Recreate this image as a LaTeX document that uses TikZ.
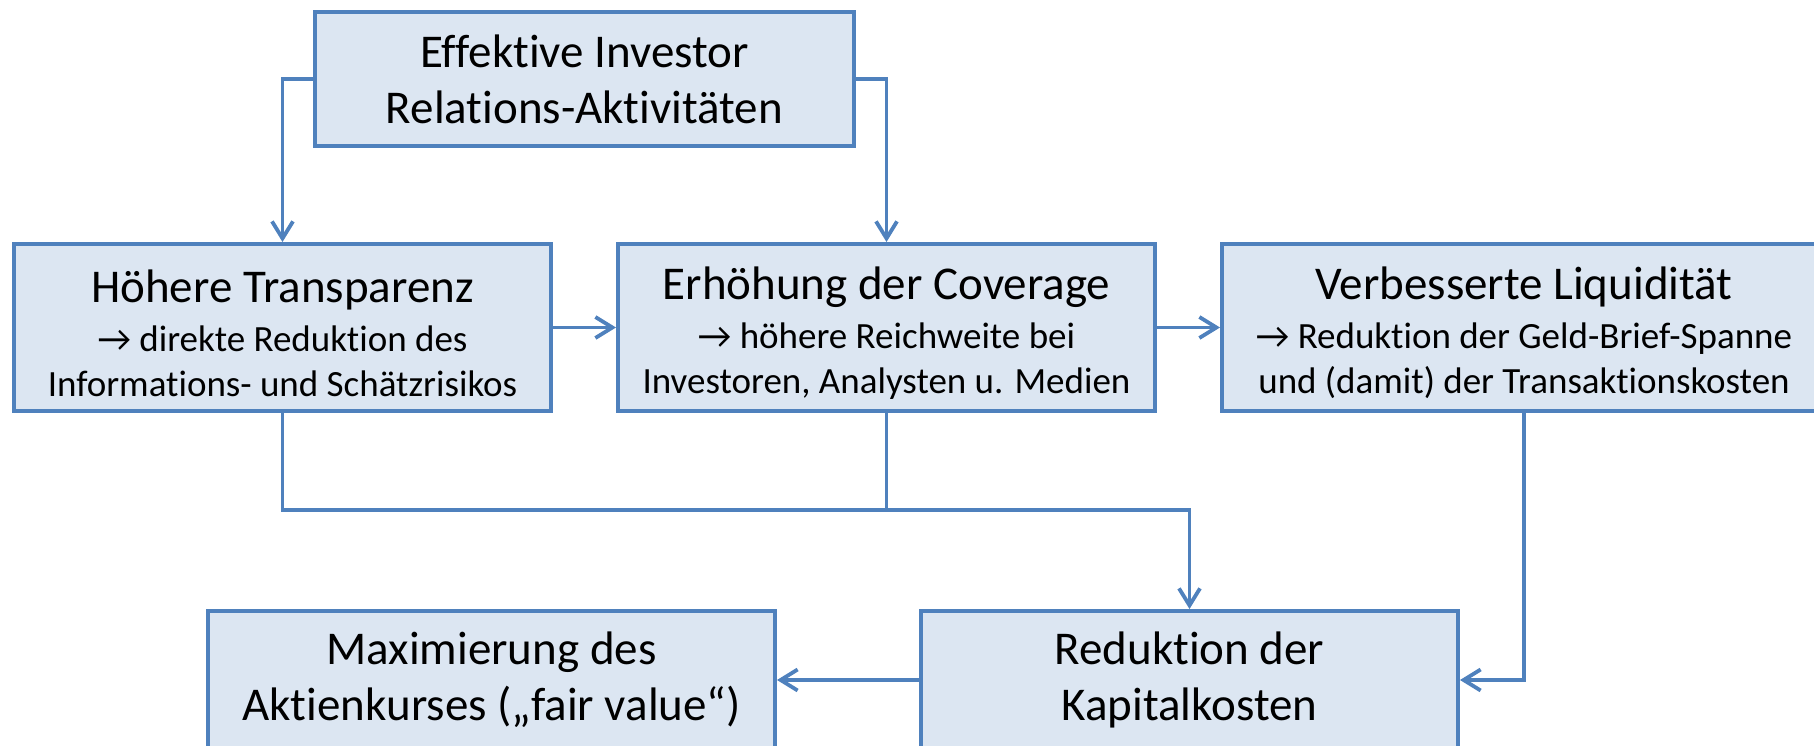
\documentclass[tikz,border=0pt]{standalone}
\usepackage{fontspec}
\setmainfont{Carlito}[Ligatures=NoCommon]
\usetikzlibrary{arrows.meta,calc}
\definecolor{boxfill}{HTML}{DCE6F2}
\definecolor{boxline}{HTML}{4F81BD}
\newcommand{\bigtxt}{\fontsize{47}{56}\selectfont}
\newcommand{\smalltxt}{\fontsize{37}{45}\selectfont}
\begin{document}
\begin{tikzpicture}[x=1pt,y=-1pt,
  box/.style={draw=boxline,fill=boxfill,line width=4pt,inner sep=0pt,
    align=center,anchor=center,font=\bigtxt},
  label text/.style={inner sep=0pt,align=center,font=\smalltxt},
  conn/.style={draw=boxline,line width=3.8pt},
  arr/.style={conn,-{Straight Barb[length=17pt,width=21pt]}}]
\useasboundingbox (0,0) rectangle (1814,746);
\clip (0,0) rectangle (1814,746);

% boxes
\node[box,minimum width=539pt,minimum height=134pt] (top) at (584.5,79)
  {Effektive Investor\\Relations-Aktivitäten};
\node[box,minimum width=537pt,minimum height=167pt] (trans) at (282.5,327.5) {};
\node[box,minimum width=537pt,minimum height=167pt] (cov) at (886.5,327.5) {};
\node[box,minimum width=604pt,minimum height=167pt] (liq) at (1524,327.5) {};
\node[box,minimum width=567pt,minimum height=138pt] (max) at (491.5,680)
  {Maximierung des\\Aktienkurses („fair value“)};
\node[box,minimum width=537pt,minimum height=138pt] (kap) at (1189.5,680)
  {Reduktion der\\Kapitalkosten};

% texts of the middle row, set a little below the box centres
\node[label text] (transtxt) at ($(trans.center)+(0,5.5)$)
  {{\bigtxt Höhere Transparenz}\\[4pt]→ direkte Reduktion des\\Informations- und Schätzrisikos};
\node[label text] (covtxt) at ($(cov.center)+(0,5.5)$)
  {{\bigtxt Erhöhung der Coverage}\\[4pt]→ höhere Reichweite bei\\Investoren, Analysten u. Medien};
\node[label text] (liqtxt) at ($(liq.center)+(0,5.5)$)
  {{\bigtxt Verbesserte Liquidität}\\[4pt]→ Reduktion der Geld-Brief-Spanne\\und (damit) der Transaktionskosten};

% connectors
\coordinate (bend) at (kap.north |- 0,510);
\draw[arr] (top.west) -| (trans.north);
\draw[arr] (top.east) -| (cov.north);
\draw[arr] (trans.east) -- (cov.west);
\draw[arr] (cov.east) -- (liq.west);
\draw[arr] (trans.south) |- (bend) -- (kap.north);
\draw[conn] (cov.south) -- (cov.south |- bend);
\draw[arr] (liq.south) |- (kap.east);
\draw[arr] (kap.west) -- (max.east);
\end{tikzpicture}
\end{document}
